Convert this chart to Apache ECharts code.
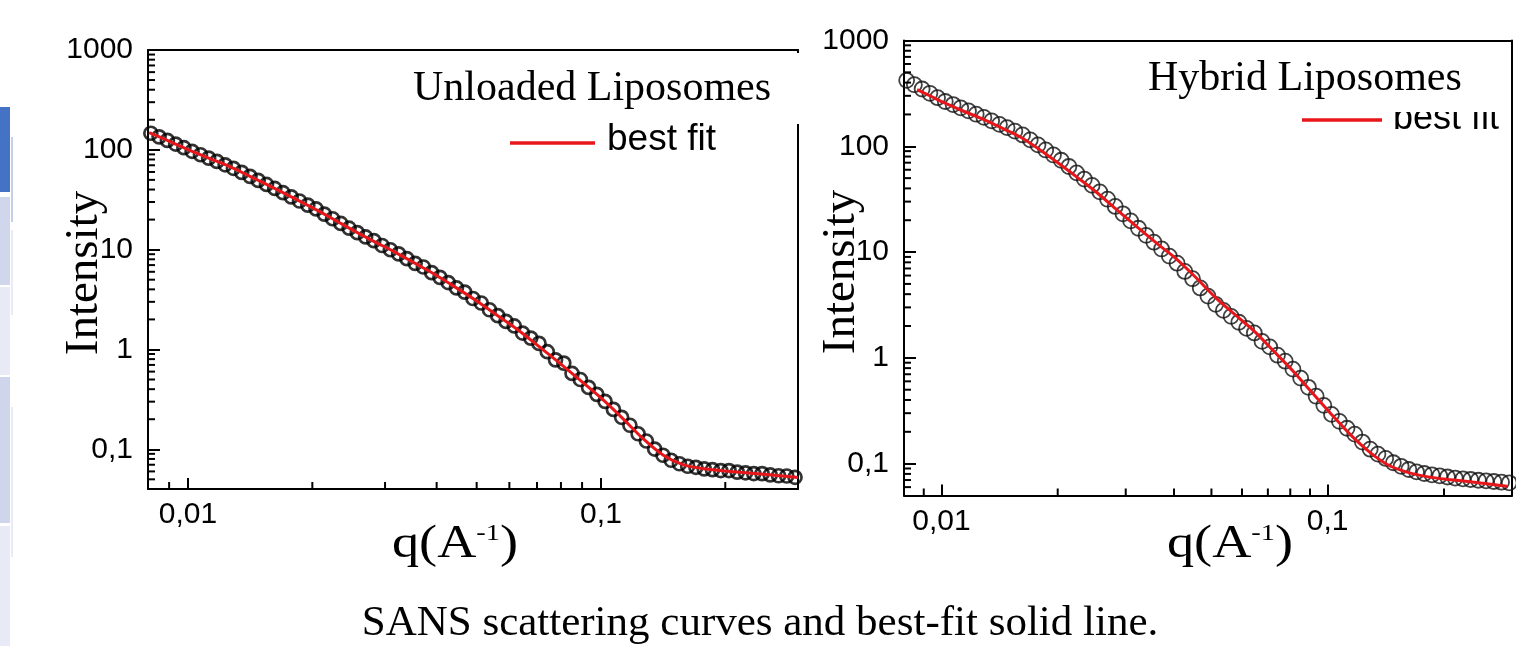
<!DOCTYPE html>
<html><head><meta charset="utf-8">
<script src="https://cdn.jsdelivr.net/npm/echarts@6/dist/echarts.min.js"></script>
<style>html,body{margin:0;padding:0;background:#fff}#c{width:1516px;height:646px}</style>
</head><body><div id="c"></div>
<script>
// scattering vector q (A^-1), shared by both curves
const qData = [0.008128, 0.008511, 0.008913, 0.009333, 0.009772, 0.01023, 0.01072, 0.01122, 0.01175, 0.01230,
  0.01288, 0.01349, 0.01413, 0.01479, 0.01549, 0.01622, 0.01698, 0.01778, 0.01862, 0.01950,
  0.02042, 0.02138, 0.02239, 0.02344, 0.02455, 0.02570, 0.02692, 0.02818, 0.02951, 0.03090,
  0.03236, 0.03388, 0.03548, 0.03715, 0.03890, 0.04074, 0.04266, 0.04467, 0.04677, 0.04898,
  0.05129, 0.05370, 0.05623, 0.05888, 0.06166, 0.06457, 0.06761, 0.07079, 0.07413, 0.07762,
  0.08128, 0.08511, 0.08913, 0.09333, 0.09772, 0.1023, 0.1072, 0.1122, 0.1175, 0.1230,
  0.1288, 0.1349, 0.1413, 0.1479, 0.1549, 0.1622, 0.1698, 0.1778, 0.1862, 0.1950,
  0.2042, 0.2138, 0.2239, 0.2344, 0.2455, 0.2570, 0.2692, 0.2818, 0.2951];
// measured intensity, unloaded liposomes
const iUnloaded = [146.6, 134.9, 124.2, 114.3, 105.0, 96.6, 89.3, 82.6, 76.6, 70.8,
  65.3, 59.4, 54.2, 49.4, 45.0, 41.0, 37.2, 33.8, 30.7, 27.9,
  25.6, 22.7, 20.4, 18.3, 16.4, 14.8, 13.4, 12.3, 11.0, 9.98,
  9.06, 8.13, 7.29, 6.70, 5.89, 5.28, 4.68, 4.14, 3.75, 3.24,
  2.92, 2.50, 2.18, 1.91, 1.72, 1.46, 1.30, 1.15, 0.95, 0.787,
  0.73, 0.575, 0.50, 0.417, 0.355, 0.302, 0.251, 0.209, 0.174, 0.143,
  0.121, 0.1005, 0.0871, 0.0776, 0.0716, 0.0676, 0.0660, 0.0637, 0.0624, 0.0612,
  0.0612, 0.0590, 0.0581, 0.0571, 0.0570, 0.0553, 0.0543, 0.0540, 0.0524];
// measured intensity, hybrid liposomes
const iHybrid = [420, 382, 348, 317, 288, 265, 248, 231, 216, 201,
  187.5, 174, 161, 150, 139, 128, 115, 103, 92.3, 82.8,
  73.8, 64.4, 56.1, 49.0, 42.7, 37.1, 31.6, 27.0, 23.0, 19.7,
  16.8, 14.4, 12.4, 10.7, 9.16, 7.85, 6.56, 5.60, 4.58, 3.83,
  3.21, 2.81, 2.47, 2.17, 1.90, 1.72, 1.43, 1.27, 1.06, 0.93,
  0.782, 0.643, 0.527, 0.434, 0.356, 0.292, 0.251, 0.216, 0.19, 0.160,
  0.137, 0.123, 0.112, 0.102, 0.0944, 0.0881, 0.0836, 0.0807, 0.0785, 0.0766,
  0.0748, 0.0731, 0.0718, 0.0708, 0.0697, 0.0687, 0.0678, 0.0668, 0.0659];
// best-fit curves
const qFitUnloaded = [0.00805, 0.00891, 0.01, 0.01122, 0.01259, 0.01413, 0.01585, 0.01778, 0.01995, 0.02239,
  0.02512, 0.02818, 0.03162, 0.03548, 0.03981, 0.04467, 0.05012, 0.05623, 0.0631, 0.07079,
  0.07943, 0.08913, 0.1, 0.1122, 0.1259, 0.1413, 0.1585, 0.1778, 0.1995, 0.2512, 0.3];
const fitUnloaded = [149, 124.2, 100.5, 82.6, 68.1, 54.2, 43.0, 33.8, 26.5, 20.4,
  15.6, 12.1, 9.51, 7.29, 5.58, 4.14, 3.04, 2.18, 1.56, 1.07,
  0.730, 0.490, 0.327, 0.209, 0.130, 0.0877, 0.0697, 0.0637, 0.0605, 0.0560, 0.0521];
const qFitHybrid = [0.00865, 0.00933, 0.01005, 0.01122, 0.01268, 0.01413, 0.0160, 0.01778, 0.02018, 0.02265,
  0.02547, 0.02851, 0.03214, 0.03631, 0.04055, 0.04571, 0.05117, 0.05754, 0.06442, 0.07244,
  0.08128, 0.0912, 0.1023, 0.1148, 0.1291, 0.1445, 0.1629, 0.182, 0.2056, 0.2455, 0.2911];
const fitHybrid = [344, 300.6, 263, 220.3, 183.2, 152.4, 122.5, 95.5, 68.5, 49.8,
  35.6, 24.9, 17.2, 11.9, 8.63, 5.69, 3.73, 2.56, 1.80, 1.16,
  0.753, 0.468, 0.292, 0.186, 0.1265, 0.0955, 0.0818, 0.075, 0.0708, 0.0661, 0.0612];
// tick values and labels
const xTickValues = [0.01, 0.1];
const xTickLabels = ['0,01', '0,1'];
const yTickValues = [0.1, 1, 10, 100, 1000];
const yTickLabels = ['0,1', '1', '10', '100', '1000'];
const xMinorTicks = [0.009, 0.02, 0.03, 0.04, 0.05, 0.06, 0.07, 0.08, 0.09, 0.2];
const yMinorTicks = [0.05, 0.06, 0.07, 0.08, 0.09, 0.2, 0.3, 0.4, 0.5, 0.6, 0.7, 0.8, 0.9,
  2, 3, 4, 5, 6, 7, 8, 9, 20, 30, 40, 50, 60, 70, 80, 90, 200, 300, 400, 500, 600, 700, 800, 900];

function labelFor(values, labels) {
  return function (v) {
    for (let i = 0; i < values.length; i++) {
      if (Math.abs(v - values[i]) / values[i] < 1e-6) return labels[i];
    }
    return '';
  };
}
const zip = (a, b) => a.map((x, i) => [x, b[i]]);

const BLACK = '#000';
const RED = '#e8161a';
const lineSt = { color: BLACK, width: 2 };
const XMIN = 0.008, XMAX = 0.3;

function xAxes(g) {
  return [{
    type: 'log', logBase: 10, gridIndex: g, min: XMIN, max: XMAX,
    axisLine: { show: true, onZero: false, lineStyle: lineSt },
    axisTick: { show: true, inside: true, length: 11, lineStyle: { color: BLACK, width: 2 } },
    minorTick: { show: false },
    axisLabel: { margin: 11, fontSize: 30, fontFamily: 'Liberation Sans', color: '#000', formatter: labelFor(xTickValues, xTickLabels) },
    splitLine: { show: false }
  }, {
    type: 'log', logBase: 10, gridIndex: g, min: XMIN, max: XMAX, position: 'top',
    axisLine: { show: true, onZero: false, lineStyle: lineSt },
    axisTick: { show: false }, axisLabel: { show: false }, splitLine: { show: false }
  }];
}
function yAxes(g, min) {
  return [{
    type: 'log', logBase: 10, gridIndex: g, min: min, max: 1000,
    axisLine: { show: true, onZero: false, lineStyle: lineSt },
    axisTick: { show: true, inside: true, length: 12, lineStyle: { color: BLACK, width: 2 } },
    minorTick: { show: false },
    axisLabel: { margin: 15, fontSize: 30, fontFamily: 'Liberation Sans', color: '#000', formatter: labelFor(yTickValues, yTickLabels) },
    splitLine: { show: false }
  }, {
    type: 'log', logBase: 10, gridIndex: g, min: min, max: 1000, position: 'right',
    axisLine: { show: true, onZero: false, lineStyle: lineSt },
    axisTick: { show: false }, axisLabel: { show: false }, splitLine: { show: false }
  }];
}
// minor ticks drawn through the axis scales
function minorTickSeries(xi, yi, yMin, dir) {
  const vals = dir === 'x' ? xMinorTicks : yMinorTicks.filter(v => v > yMin);
  return {
    type: 'custom', xAxisIndex: xi, yAxisIndex: yi, silent: true, clip: false, z: 6,
    data: vals.map(v => dir === 'x' ? [v, yMin] : [XMIN, v]),
    renderItem: function (params, api) {
      const p = api.coord([api.value(0), api.value(1)]);
      const shape = dir === 'x'
        ? { x1: p[0], y1: p[1], x2: p[0], y2: p[1] - 7 }
        : { x1: p[0], y1: p[1], x2: p[0] + 7, y2: p[1] };
      return { type: 'line', shape: shape, style: { stroke: BLACK, lineWidth: 2 } };
    }
  };
}

const serif = '"Liberation Serif", "Times New Roman", serif';
const sans = '"Liberation Sans", Arial, sans-serif';
function txt(x, y, text, font, extra) {
  return Object.assign({
    type: 'text', x: x, y: y, z: 30,
    style: { text: text, font: font, fill: '#000', textAlign: 'left', align: 'left', textVerticalAlign: 'middle', verticalAlign: 'middle' }
  }, extra || {});
}
function vtxt(x, y, text, font) {
  return { type: 'text', x: x, y: y, z: 30, rotation: Math.PI / 2,
    style: { text: text, font: font, fill: '#000', textAlign: 'center', align: 'center', textVerticalAlign: 'middle', verticalAlign: 'middle' } };
}
function qLabel(x, y) {
  return {
    type: 'text', x: x, y: y, z: 30, scaleX: 1.18,
    style: {
      text: '{a|q(A}{s|-1}{a|)}', fill: '#000', textAlign: 'center', align: 'center', textVerticalAlign: 'middle', verticalAlign: 'middle',
      rich: {
        a: { fontSize: 46, fontFamily: serif, lineHeight: 46, fill: '#000', color: '#000' },
        s: { fontSize: 24, fontFamily: serif, lineHeight: 28, verticalAlign: 'top', fill: '#000', color: '#000' }
      }
    }
  };
}
function rect(x, y, w, h, fill, z) {
  return { type: 'rect', z: z || 1, shape: { x: x, y: y, width: w, height: h }, style: { fill: fill } };
}

const option = {
  animation: false,
  backgroundColor: '#fff',
  grid: [
    { left: 148, top: 50, width: 650, height: 439, outerBoundsMode: 'none', containLabel: false },
    { left: 904, top: 40.5, width: 608, height: 455, outerBoundsMode: 'none', containLabel: false }
  ],
  xAxis: xAxes(0).concat(xAxes(1)),
  yAxis: yAxes(0, 0.04).concat(yAxes(1, 0.05)),
  series: [
    { type: 'scatter', xAxisIndex: 0, yAxisIndex: 0, data: zip(qData, iUnloaded), symbol: 'circle', symbolSize: 13,
      itemStyle: { color: 'rgba(255,255,255,0)', borderColor: BLACK, borderWidth: 2.7 }, z: 2 },
    { type: 'line', xAxisIndex: 0, yAxisIndex: 0, data: zip(qFitUnloaded, fitUnloaded), showSymbol: false, symbol: 'none',
      smooth: 0.3, lineStyle: { color: RED, width: 3 }, z: 3 },
    { type: 'scatter', xAxisIndex: 2, yAxisIndex: 2, data: zip(qData, iHybrid), symbol: 'circle', symbolSize: 15,
      itemStyle: { color: 'rgba(255,255,255,0)', borderColor: '#111', borderWidth: 1.8 }, z: 2 },
    { type: 'line', xAxisIndex: 2, yAxisIndex: 2, data: zip(qFitHybrid, fitHybrid), showSymbol: false, symbol: 'none',
      smooth: 0.3, lineStyle: { color: RED, width: 3 }, z: 3 },
    minorTickSeries(0, 0, 0.04, 'x'),
    minorTickSeries(0, 0, 0.04, 'y'),
    minorTickSeries(2, 2, 0.05, 'x'),
    minorTickSeries(2, 2, 0.05, 'y')
  ],
  graphic: [
    // slide-thumbnail strip at the left edge
    rect(0, 107, 10, 85, '#4472c4'),
    rect(0, 197, 10, 88, '#d0d7ec'),
    rect(0, 287, 10, 88, '#e8ebf5'),
    rect(0, 377, 10, 146, '#cfd5ea'),
    rect(0, 526, 10, 120, '#e8ebf5'),
    rect(11, 137, 2, 85, '#c6cfe8'),
    rect(11, 230, 2, 85, '#e8ebf5'),
    rect(11, 407, 2, 150, '#e8ebf5'),
    // gap in the right frame of the left panel
    rect(794, 53, 8, 71, '#fff', 50),
    // left panel texts
    txt(413, 89, 'Unloaded Liposomes', '42px ' + serif),
    { type: 'line', z: 30, shape: { x1: 510, y1: 143, x2: 595, y2: 143 }, style: { stroke: RED, lineWidth: 3.5 } },
    txt(607, 140, 'best fit', '37px ' + sans),
    vtxt(85, 273, 'Intensity', '47px ' + serif),
    qLabel(455, 545),
    // right panel texts
    txt(1393, 119, 'best fit', '36px ' + sans, { z: 10 }),
    { type: 'line', z: 30, shape: { x1: 1302, y1: 120, x2: 1382, y2: 120 }, style: { stroke: RED, lineWidth: 3.5 } },
    rect(1150, 45, 355, 67, '#fff', 20),
    txt(1148, 79, 'Hybrid Liposomes', '42px ' + serif, { z: 40 }),
    vtxt(842, 272, 'Intensity', '47px ' + serif),
    qLabel(1230, 545),
    // caption
    { type: 'text', x: 760, y: 624, z: 30, style: { text: 'SANS scattering curves and best-fit solid line.', font: '43px ' + serif, fill: '#000', textAlign: 'center', align: 'center', textVerticalAlign: 'middle', verticalAlign: 'middle' } }
  ]
};
const chart = echarts.init(document.getElementById('c'), null, { renderer: 'canvas' });
chart.setOption(option);
</script></body></html>
